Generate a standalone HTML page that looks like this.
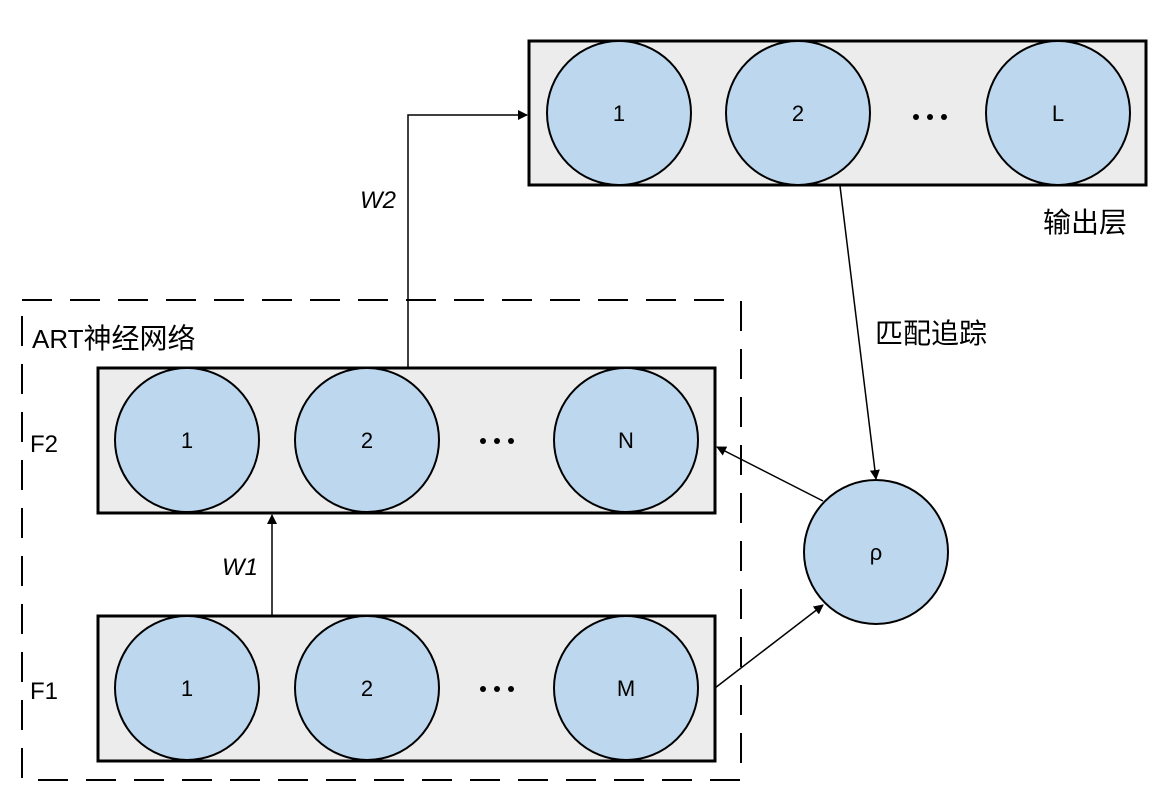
<!DOCTYPE html>
<html><head><meta charset="utf-8"><style>
body{margin:0;background:#fff;}
svg text{font-family:"Liberation Sans","Noto Sans CJK SC",sans-serif;}
</style></head><body>
<svg width="1164" height="797" viewBox="0 0 1164 797" xmlns="http://www.w3.org/2000/svg">
<defs>
<marker id="a" markerWidth="10" markerHeight="10" refX="9" refY="5" orient="auto" markerUnits="userSpaceOnUse">
<path d="M0,0 L10,5 L0,10 z" fill="#000"/></marker>
</defs>
<rect x="22" y="300" width="719" height="480" fill="none" stroke="#000" stroke-width="2" stroke-dasharray="30,18"/>
<g stroke="#000" stroke-width="3" fill="#ececec">
<rect x="529" y="41" width="617" height="144"/>
<rect x="98" y="368" width="617" height="145"/>
<rect x="98" y="616" width="617" height="145"/>
</g>
<g stroke="#000" stroke-width="2" fill="#bdd7ee">
<circle cx="619" cy="113" r="72"/><circle cx="798" cy="113" r="72"/><circle cx="1058" cy="113" r="72"/>
<circle cx="187" cy="440" r="72"/><circle cx="367" cy="440" r="72"/><circle cx="626" cy="440" r="72"/>
<circle cx="187" cy="688" r="72"/><circle cx="367" cy="688" r="72"/><circle cx="626" cy="688" r="72"/>
<circle cx="876" cy="552" r="72"/>
</g>
<g fill="#000">
<circle cx="916" cy="117" r="3"/><circle cx="930" cy="117" r="3"/><circle cx="944" cy="117" r="3"/>
<circle cx="483" cy="441" r="3"/><circle cx="497" cy="441" r="3"/><circle cx="511" cy="441" r="3"/>
<circle cx="483" cy="689" r="3"/><circle cx="497" cy="689" r="3"/><circle cx="511" cy="689" r="3"/>
</g>
<g font-size="22" text-anchor="middle" fill="#000">
<text x="619" y="121">1</text><text x="798" y="121">2</text><text x="1058" y="121">L</text>
<text x="187" y="448">1</text><text x="367" y="448">2</text><text x="626" y="448">N</text>
<text x="187" y="696">1</text><text x="367" y="696">2</text><text x="626" y="696">M</text>
<text x="876" y="560">ρ</text>
</g>
<g stroke="#000" stroke-width="1.5" fill="none">
<polyline points="408,368 408,115 527,115" marker-end="url(#a)"/>
<line x1="272" y1="616" x2="272" y2="515" marker-end="url(#a)"/>
<line x1="840" y1="186" x2="876" y2="479" marker-end="url(#a)"/>
<line x1="823" y1="501" x2="717" y2="447" marker-end="url(#a)"/>
<line x1="715" y1="688" x2="823" y2="605" marker-end="url(#a)"/>
</g>
<g font-size="24" fill="#000">
<text x="360" y="208" font-style="italic">W2</text>
<text x="222" y="575" font-style="italic">W1</text>
<text x="30" y="452">F2</text>
<text x="30" y="699">F1</text>
</g>
<g font-size="28" fill="#000">
<text x="1043" y="232">输出层</text>
<text x="875" y="343">匹配追踪</text>
<text x="32" y="348" font-size="26">ART<tspan font-size="28">神经网络</tspan></text>
</g>
</svg>
</body></html>
